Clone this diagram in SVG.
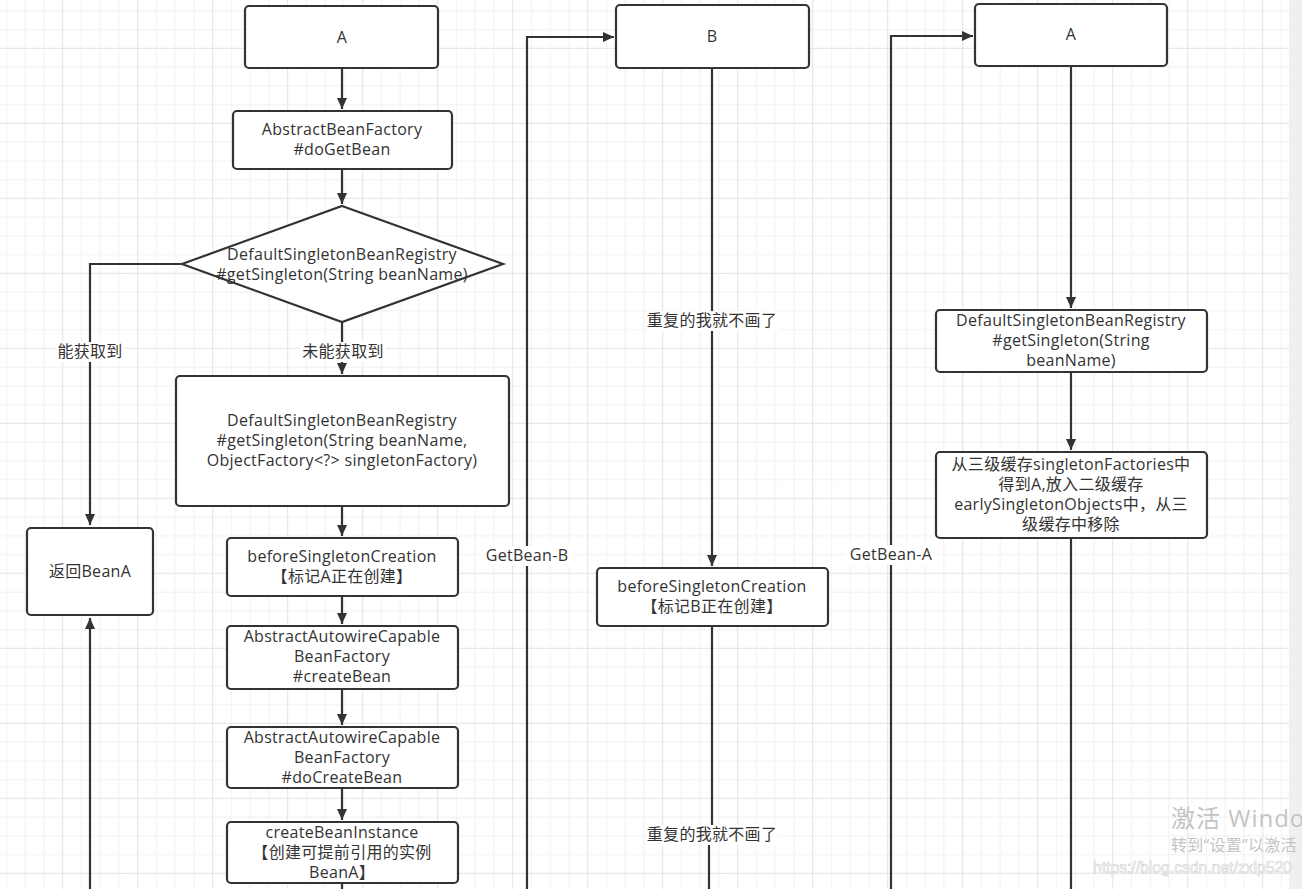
<svg xmlns="http://www.w3.org/2000/svg" width="1302" height="889" viewBox="0 0 1302 889">
<defs>
<pattern id="grid" patternUnits="userSpaceOnUse" x="-12.8" y="-27.2" width="75" height="75">
<path d="M0.5 0V75M19.25 0V75M38 0V75M56.75 0V75M0 19.25H75M0 38H75M0 56.75H75" stroke="#f0f0f0" stroke-width="1" fill="none"/>
<path d="M0.5 0V75M0 0.5H75" stroke="#e3e3e3" stroke-width="1" fill="none"/>
</pattern>
<marker id="arr" markerUnits="userSpaceOnUse" markerWidth="12" markerHeight="12" viewBox="0 0 12 12" refX="11" refY="6" orient="auto">
<path d="M0,1 L11,6 L0,11 z" fill="#333"/>
</marker>
</defs>
<style>
.n{fill:#fff;stroke:#333;stroke-width:2.2}
.e{fill:none;stroke:#333;stroke-width:2.2}
text{font-family:"Open Sans","Noto Sans","Noto Sans CJK SC",sans-serif;font-size:16px;letter-spacing:0.3px;fill:#333;text-anchor:middle}
.lb{fill:#fff}
.wm{text-anchor:start;letter-spacing:0;fill:#c4c4c4}
</style>
<rect width="1302" height="889" fill="#fff"/>
<rect width="1302" height="889" fill="url(#grid)"/>
<rect x="1289" y="0" width="13" height="889" fill="#f0f0f0"/>

<g id="connectors">
<path class="e" d="M342 69V109" marker-end="url(#arr)"/>
<path class="e" d="M342 169V204" marker-end="url(#arr)"/>
<path class="e" d="M182 264H90V525" marker-end="url(#arr)"/>
<path class="e" d="M342 322V374" marker-end="url(#arr)"/>
<path class="e" d="M342 506V536" marker-end="url(#arr)"/>
<path class="e" d="M342 596V624" marker-end="url(#arr)"/>
<path class="e" d="M342 689V725" marker-end="url(#arr)"/>
<path class="e" d="M342 788V820" marker-end="url(#arr)"/>
<path class="e" d="M342 884V895"/>
<path class="e" d="M90 895V618" marker-end="url(#arr)"/>
<path class="e" d="M527 895V37H614" marker-end="url(#arr)"/>
<path class="e" d="M712 69V566" marker-end="url(#arr)"/>
<path class="e" d="M712 627V835"/>
<path class="e" d="M709 835V895"/>
<path class="e" d="M891 895V36H973" marker-end="url(#arr)"/>
<path class="e" d="M1071 67V308" marker-end="url(#arr)"/>
<path class="e" d="M1071 372V450" marker-end="url(#arr)"/>
<path class="e" d="M1071 538V895"/>
<g id="edge-labels">
<rect class="lb" x="55" y="342" width="70" height="20"/>
<text x="90" y="357">能获取到</text>
<rect class="lb" x="300" y="342" width="86" height="20"/>
<text x="343" y="357">未能获取到</text>
<rect class="lb" x="481" y="546" width="92" height="20"/>
<text x="527" y="561">GetBean-B</text>
<rect class="lb" x="845" y="545" width="92" height="20"/>
<text x="891" y="560">GetBean-A</text>
<rect class="lb" x="646" y="311" width="132" height="20"/>
<text x="712" y="326">重复的我就不画了</text>
<rect class="lb" x="646" y="825" width="132" height="20"/>
<text x="712" y="840">重复的我就不画了</text>
</g>
</g>

<g id="node-a1"><rect class="n" x="245" y="6" width="193" height="62" rx="4"/><text x="342" y="43">A</text></g>
<g id="node-doGetBean"><rect class="n" x="233" y="111" width="219" height="58" rx="4"/><text x="342" y="135">AbstractBeanFactory</text><text x="342" y="155">#doGetBean</text></g>
<g id="node-decision"><path class="n" d="M342 206L503 264L342 322L182 264Z"/><text x="342" y="260">DefaultSingletonBeanRegistry</text><text x="342" y="280">#getSingleton(String beanName)</text></g>
<g id="node-getSingleton2"><rect class="n" x="176" y="376" width="333" height="130" rx="4"/><text x="342" y="426">DefaultSingletonBeanRegistry</text><text x="342" y="446">#getSingleton(String beanName,</text><text x="342" y="466">ObjectFactory&lt;?&gt; singletonFactory)</text></g>
<g id="node-before-a"><rect class="n" x="227" y="538" width="231" height="58" rx="4"/><text x="342" y="562">beforeSingletonCreation</text><text x="342" y="582">【标记A正在创建】</text></g>
<g id="node-createBean"><rect class="n" x="227" y="626" width="231" height="63" rx="4"/><text x="342" y="642">AbstractAutowireCapable</text><text x="342" y="662">BeanFactory</text><text x="342" y="682">#createBean</text></g>
<g id="node-doCreateBean"><rect class="n" x="227" y="727" width="231" height="61" rx="4"/><text x="342" y="743">AbstractAutowireCapable</text><text x="342" y="763">BeanFactory</text><text x="342" y="783">#doCreateBean</text></g>
<g id="node-createBeanInstance"><rect class="n" x="227" y="822" width="231" height="61" rx="4"/><text x="342" y="838">createBeanInstance</text><text x="342" y="858">【创建可提前引用的实例</text><text x="342" y="878">BeanA】</text></g>
<g id="node-return"><rect class="n" x="27" y="528" width="126" height="87" rx="4"/><text x="90" y="577">返回BeanA</text></g>
<g id="node-b"><rect class="n" x="616" y="5" width="193" height="63" rx="4"/><text x="712" y="42">B</text></g>
<g id="node-before-b"><rect class="n" x="597" y="568" width="231" height="58" rx="4"/><text x="712" y="592">beforeSingletonCreation</text><text x="712" y="612">【标记B正在创建】</text></g>
<g id="node-a2"><rect class="n" x="975" y="4" width="192" height="62" rx="4"/><text x="1071" y="40">A</text></g>
<g id="node-getSingleton3"><rect class="n" x="936" y="310" width="271" height="62" rx="4"/><text x="1071" y="326">DefaultSingletonBeanRegistry</text><text x="1071" y="346">#getSingleton(String</text><text x="1071" y="366">beanName)</text></g>
<g id="node-early"><rect class="n" x="936" y="452" width="271" height="86" rx="4"/><text x="1071" y="470">从三级缓存singletonFactories中</text><text x="1071" y="490">得到A,放入二级缓存</text><text x="1071" y="510">earlySingletonObjects中，从三</text><text x="1071" y="530">级缓存中移除</text></g>

<g id="watermark">
<text class="wm" x="1171" y="827" style="font-size:24px;letter-spacing:1px">激活 Windows</text>
<text class="wm" x="1171" y="851" style="font-size:16px;letter-spacing:0.3px">转到“设置”以激活 Windows。</text>
<text class="wm" x="1093" y="873" style="font-family:'Liberation Sans',sans-serif;font-size:15.7px;fill:#fff;stroke:#d6d6d6;stroke-width:0.7">https://blog.csdn.net/zxlp520</text>
</g>
</svg>
